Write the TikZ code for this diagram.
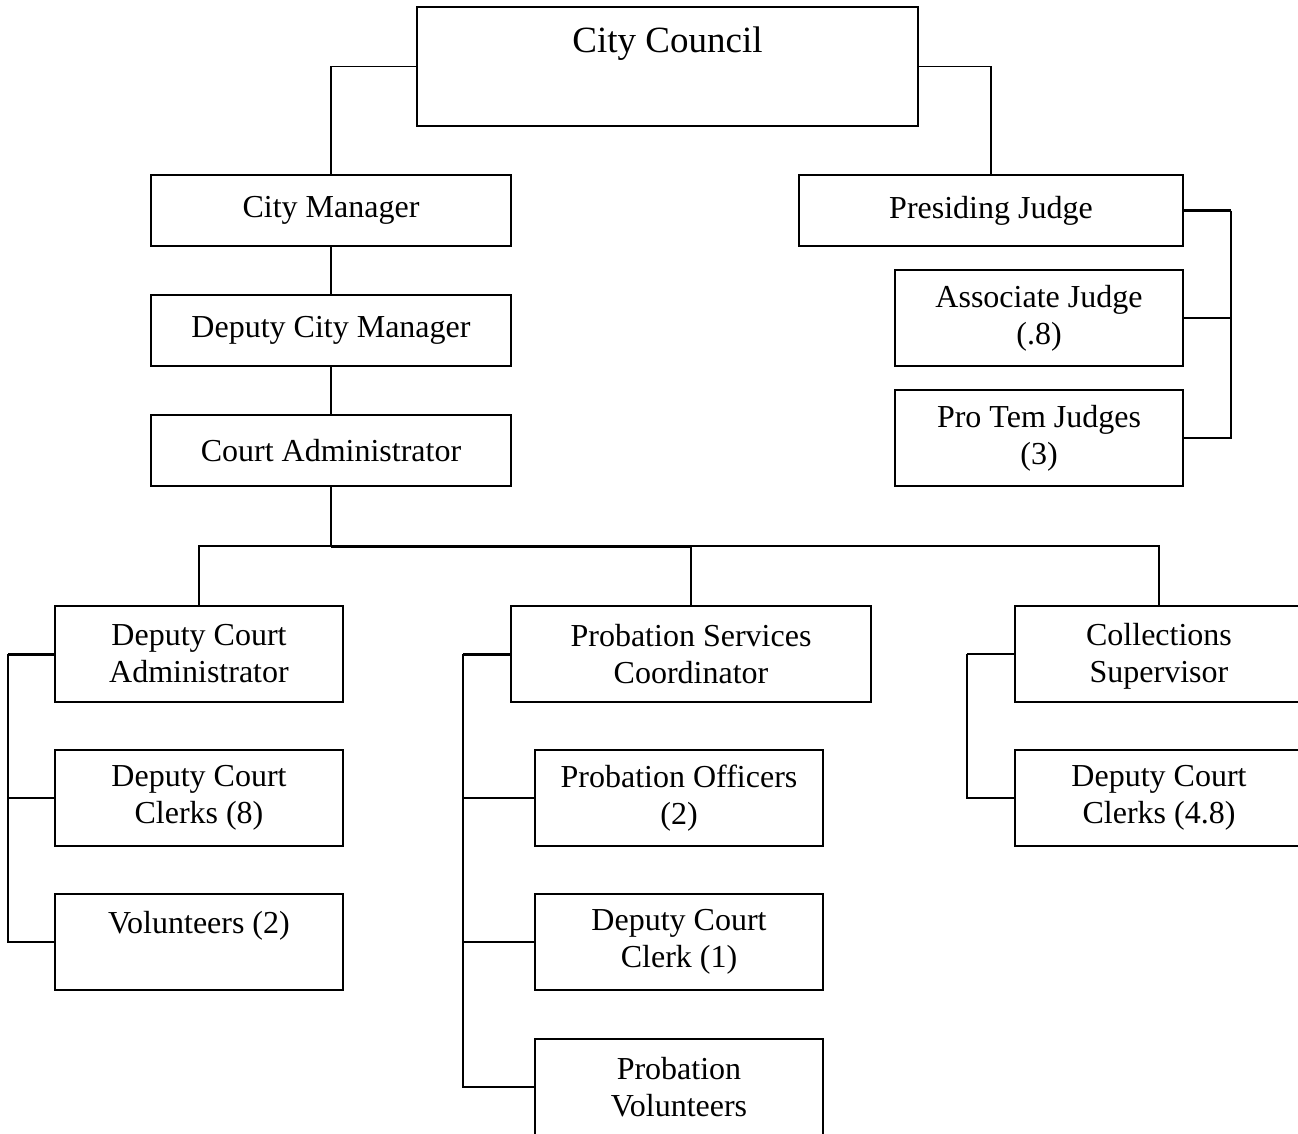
\documentclass[tikz,border=0pt]{standalone}
\usepackage{fontspec}
\setmainfont{Liberation Serif}
\tikzset{
  kotak/.style={draw, line width=2pt, inner sep=0pt, align=center,
    minimum width=288pt, minimum height=96pt,
    font=\fontsize{32}{37}\selectfont},
  garis/.style={line width=1.5pt},
  garistebal/.style={line width=3pt}
}
\begin{document}
\begin{tikzpicture}[x=1pt, y=-1pt]
    \useasboundingbox (0,0) rectangle (1298,1133);
    \clip (0,0) rectangle (1298,1133);

    % Kotak bagian atas
    \node[kotak, minimum width=501pt, minimum height=119pt, text depth=54pt,
      font=\fontsize{37}{42}\selectfont] (council) at (667.5,66.5) {City Council};
    \node[kotak, minimum width=360pt, minimum height=71pt] (cm) at (331,210.5) {City Manager};
    \node[kotak, minimum width=384pt, minimum height=71pt] (pj) at (991,210.5) {Presiding Judge};
    \node[kotak, minimum width=360pt, minimum height=71pt] (dcm) at (331,330.5) {Deputy City Manager};
    \node[kotak, minimum width=360pt, minimum height=71pt] (ca) at (331,450.5) {Court Administrator};

    % Kotak para hakim
    \node[kotak] (aj) at (1039,318) {Associate Judge\\(.8)};
    \node[kotak] (ptj) at (1039,438) {Pro Tem Judges\\(3)};

    % Kotak bagian bawah
    \node[kotak] (dca) at (199,654) {Deputy Court\\Administrator};
    \node[kotak] (dcc8) at (199,798) {Deputy Court\\Clerks (8)};
    \node[kotak, text depth=40pt] (vol) at (199,942) {Volunteers (2)};
    \node[kotak, minimum width=360pt] (psc) at (691,654) {Probation Services\\Coordinator};
    \node[kotak] (po) at (679,798) {Probation Officers\\(2)};
    \node[kotak] (dcc1) at (679,942) {Deputy Court\\Clerk (1)};
    \node[kotak] (pv) at (679,1087) {Probation\\Volunteers};
    \node[kotak] (cs) at (1159,654) {\strut Collections\\Supervisor};
    \node[kotak] (dcc48) at (1159,798) {Deputy Court\\Clerks (4.8)};

    % Titik bantu untuk garis
    \coordinate (pjbus) at (1231,210.5);
    \coordinate (cabus) at (331,546);
    \coordinate (dcabus) at (8,654);
    \coordinate (pscbus) at (463,654);
    \coordinate (csbus) at (967,654);

    % Garis dari City Council
    \draw[garis] (council.west) -| (cm.north);
    \draw[garis] (council.east) -| (pj.north);
    \draw[garis] (cm.south) -- (dcm.north);
    \draw[garis] (dcm.south) -- (ca.north);

    % Garis para hakim
    \draw[garistebal] (pj.east) -- (pjbus);
    \draw[garis] (pjbus) |- (ptj.east);
    \draw[garis] (aj.east) -- (aj.east -| pjbus);

    % Garis dari Court Administrator
    \draw[garis] (ca.south) -- (cabus);
    \draw[garis] (dca.north) |- (cabus);
    \draw[garistebal] (cabus) -- (cabus -| psc.north);
    \draw[garis] (psc.north) -- (psc.north |- cabus) -| (cs.north);

    % Garis cabang kiri
    \draw[garistebal] (dca.west) -- (dcabus);
    \draw[garis] (dcabus) |- (vol.west);
    \draw[garis] (dcc8.west) -- (dcc8.west -| dcabus);

    % Garis cabang tengah
    \draw[garistebal] (psc.west) -- (pscbus);
    \draw[garis] (pscbus) |- (pv.west);
    \draw[garis] (po.west) -- (po.west -| pscbus);
    \draw[garis] (dcc1.west) -- (dcc1.west -| pscbus);

    % Garis cabang kanan
    \draw[garis] (cs.west) -- (csbus);
    \draw[garis] (csbus) |- (dcc48.west);

\end{tikzpicture}
\end{document}
